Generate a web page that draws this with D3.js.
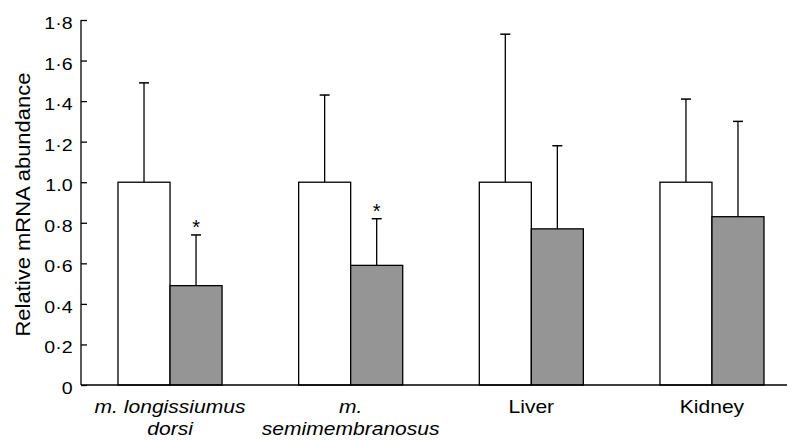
<!DOCTYPE html>
<html>
<head>
<meta charset="utf-8">
<script src="https://cdn.jsdelivr.net/npm/d3@7"></script>
<style>
  body { margin: 0; background: #fff; }
  text { font-family: "Liberation Sans", Arial, sans-serif; fill: #000; }
</style>
</head>
<body>
<div id="chart"></div>
<script>
// tissues, two lines each for the label
const categories = ["ld", "sm", "liver", "kidney"];
const labelLines = [["m. longissiumus", "dorsi"], ["m.", "semimembranosus"], ["Liver"], ["Kidney"]];
const labelItalic = [true, true, false, false];
const controlValues = [1.0, 1.0, 1.0, 1.0];
const controlErr = [1.49, 1.43, 1.73, 1.41];
const treatedValues = [0.49, 0.59, 0.77, 0.83];
const treatedErr = [0.74, 0.82, 1.18, 1.30];
const significant = [true, true, false, false];
const yTicks = [0, 0.2, 0.4, 0.6, 0.8, 1.0, 1.2, 1.4, 1.6, 1.8];

const width = 790, height = 440;
const margin = {top: 20, right: 3, bottom: 55, left: 81};
const stretch = 1.15; // the figure's type is wider than Liberation Sans

const svg = d3.select("#chart").append("svg")
    .attr("width", width)
    .attr("height", height);

const x = d3.scaleBand()
    .domain(categories)
    .range([118, 764])
    .paddingInner(0.424)
    .paddingOuter(0);

const sub = d3.scaleBand()
    .domain(["control", "treated"])
    .range([0, x.bandwidth()]);

const y = d3.scaleLinear()
    .domain([0, 1.8])
    .range([385, 20]);

const fmt = d => d === 0 ? "0" : (d === 1 ? "1.0" : d3.format(".1f")(d).replace(".", "·"));

// y axis
const yAxis = d3.axisLeft(y).tickValues(yTicks).tickSize(-6).tickPadding(9).tickFormat(fmt);
const yG = svg.append("g")
    .attr("transform", `translate(${margin.left},0)`)
    .call(yAxis);
yG.select(".domain").attr("d", `M0,${y(1.8)}V${y(0)}`).attr("stroke-width", 1.3);
yG.selectAll(".tick line").attr("stroke-width", 1.3);
yG.selectAll(".tick text")
    .attr("font-size", 17).attr("fill", "#000")
    .attr("font-family", "Liberation Sans, Arial, sans-serif")
    .attr("transform", `scale(${stretch},1)`)
    .attr("x", -8.5 / stretch)
    .attr("dy", "0.5em");

svg.append("text")
    .attr("transform", `translate(30,${(y(0) + y(1.8)) / 2 + 2}) rotate(-90) scale(1.1,1)`)
    .attr("text-anchor", "middle")
    .attr("font-size", 20)
    .text("Relative mRNA abundance");

// bars
const groups = svg.selectAll(".grp")
    .data(categories)
    .join("g")
    .attr("class", "grp")
    .attr("transform", d => `translate(${x(d)},0)`);

const series = [
  {key: "control", vals: controlValues, err: controlErr, fill: "#fff"},
  {key: "treated", vals: treatedValues, err: treatedErr, fill: "#959595"}
];

series.forEach(s => {
  groups.append("line")
      .attr("x1", sub(s.key) + sub.bandwidth() / 2)
      .attr("x2", sub(s.key) + sub.bandwidth() / 2)
      .attr("y1", (d, i) => y(s.vals[i]))
      .attr("y2", (d, i) => y(s.err[i]))
      .attr("stroke", "#000").attr("stroke-width", 1.3);
  groups.append("line")
      .attr("x1", sub(s.key) + sub.bandwidth() / 2 - 5)
      .attr("x2", sub(s.key) + sub.bandwidth() / 2 + 5)
      .attr("y1", (d, i) => y(s.err[i]))
      .attr("y2", (d, i) => y(s.err[i]))
      .attr("stroke", "#000").attr("stroke-width", 1.5);
  groups.append("rect")
      .attr("x", sub(s.key))
      .attr("width", sub.bandwidth())
      .attr("y", (d, i) => y(s.vals[i]))
      .attr("height", (d, i) => y(0) - y(s.vals[i]))
      .attr("fill", s.fill)
      .attr("stroke", "#000").attr("stroke-width", 1.3);
});

groups.filter((d, i) => significant[i])
    .append("text")
    .attr("x", sub("treated") + sub.bandwidth() / 2)
    .attr("y", d => y(treatedErr[categories.indexOf(d)]) - 1)
    .attr("text-anchor", "middle")
    .attr("font-size", 20)
    .text("*");

// baseline
svg.append("line")
    .attr("x1", margin.left).attr("x2", width - margin.right)
    .attr("y1", y(0)).attr("y2", y(0))
    .attr("stroke", "#000").attr("stroke-width", 1.3);

// x labels
groups.each(function(d, i) {
  const t = d3.select(this).append("text")
      .attr("text-anchor", "middle")
      .attr("font-size", 18)
      .attr("font-style", labelItalic[i] ? "italic" : "normal")
      .attr("transform", `translate(${x.bandwidth() / 2},413) scale(1.17,1)`);
  labelLines[i].forEach((line, j) => {
    t.append("tspan")
        .attr("x", 0)
        .attr("dy", j === 0 ? 0 : 22)
        .text(line);
  });
});
</script>
</body>
</html>
